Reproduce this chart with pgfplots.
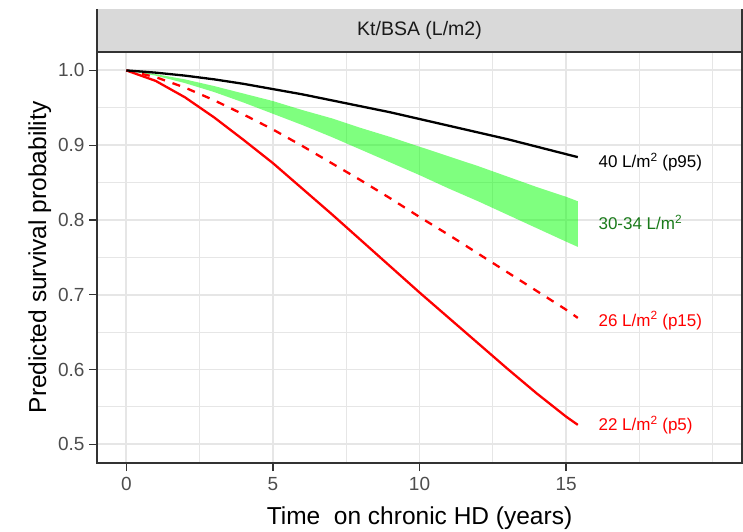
\documentclass[border=0pt]{standalone}
\usepackage{fontspec}
\setmainfont{Liberation Sans}
\usepackage{pgfplots}
\usepackage{pgfplotstable}
\pgfplotsset{compat=1.18}
\usepgfplotslibrary{fillbetween}

\definecolor{grey10}{HTML}{1A1A1A}
\definecolor{grey20}{HTML}{333333}
\definecolor{grey30}{HTML}{4D4D4D}
\definecolor{grey85}{HTML}{D9D9D9}
\definecolor{gridgrey}{HTML}{E6E6E6}
\definecolor{bandgreen}{HTML}{00FF00}
\definecolor{labgreen}{HTML}{1A7A1A}

% Predicted survival by Kt/BSA level: p95, band 30-34 (upper/lower), p15, p5
\pgfplotstableread{
t    s95   up    lo    s15   s5
0    1     1     1     1     1
1    0.997 0.995 0.993 0.991 0.986
2    0.993 0.988 0.983 0.977 0.964
3    0.988 0.979 0.971 0.960 0.937
4    0.982 0.969 0.957 0.941 0.907
5    0.975 0.959 0.942 0.921 0.876
6    0.968 0.947 0.927 0.899 0.842
7    0.960 0.936 0.911 0.876 0.808
8    0.952 0.923 0.894 0.853 0.773
9    0.944 0.911 0.877 0.829 0.738
10   0.935 0.898 0.860 0.804 0.703
11   0.926 0.885 0.842 0.780 0.669
12   0.917 0.872 0.825 0.755 0.635
13   0.908 0.858 0.807 0.730 0.601
14   0.898 0.844 0.789 0.705 0.568
15   0.888 0.831 0.771 0.680 0.537
15.4 0.884 0.825 0.764 0.669 0.526
}\survival

\begin{document}
\begin{tikzpicture}
\begin{axis}[
  scale only axis, width=645pt, height=411.3pt,
  xmin=-1, xmax=21, ymin=0.475, ymax=1.025,
  xtick={0,5,10,15}, xticklabels={0,5,10,15},
  ytick={0.5,0.6,0.7,0.8,0.9,1.0},
  yticklabels={0.5,0.6,0.7,0.8,0.9,1.0},
  minor xtick={2.5,7.5,12.5,17.5,20},
  minor ytick={0.55,0.65,0.75,0.85,0.95},
  grid=both,
  major grid style={gridgrey, line width=1.8pt},
  minor grid style={gridgrey, line width=1.0pt},
  tick pos=left, tick align=outside,
  major tick length=8pt, minor tick length=0pt,
  tick style={grey20, line width=1.3pt},
  axis line style={grey20, line width=1.3pt},
  ticklabel style={font=\fontsize{19}{22}\selectfont, text=grey30},
  xticklabel style={yshift=-3pt},
  yticklabel style={xshift=-1pt},
  xlabel={Time\ \ on chronic HD (years)},
  ylabel={Predicted survival probability},
  xlabel style={yshift=-9pt},
  label style={font=\fontsize{24.5}{28}\selectfont, text=black},
  clip=false,
]
\addplot[name path=up, draw=none] table[x=t, y=up] {\survival};
\addplot[name path=lo, draw=none] table[x=t, y=lo] {\survival};
\addplot[fill=bandgreen, fill opacity=0.5, draw=none] fill between[of=up and lo];
\addplot[red, line width=2.3pt] table[x=t, y=s5] {\survival};
\addplot[red, line width=2.3pt, dash pattern=on 8pt off 8pt] table[x=t, y=s15] {\survival};
\addplot[black, line width=2.3pt] table[x=t, y=s95] {\survival};

\begin{scope}[every node/.style={anchor=base west, inner sep=0pt, font=\fontsize{17}{20}\selectfont}]
  \node[text=black]    at (axis cs:16.1,0.870) {40 L/m\textsuperscript{2} (p95)};
  \node[text=labgreen] at (axis cs:16.1,0.787) {30-34 L/m\textsuperscript{2}};
  \node[text=red]      at (axis cs:16.1,0.658) {26 L/m\textsuperscript{2} (p15)};
  \node[text=red]      at (axis cs:16.1,0.518) {22 L/m\textsuperscript{2} (p5)};
\end{scope}
\end{axis}

% facet strip
\fill[grey85] (current axis.north west) rectangle ([yshift=42.7pt]current axis.north east);
\draw[grey20, line width=1.3pt] ([yshift=42.7pt]current axis.north west) -- (current axis.north west)
  (current axis.north east) -- ([yshift=42.7pt]current axis.north east);
\draw[grey20, line width=2pt] (current axis.north west) -- (current axis.north east);
\node[font=\fontsize{19.5}{22}\selectfont, text=grey10] at ([yshift=21.35pt]current axis.north) {Kt/BSA (L/m2)};

\pgfresetboundingbox
\path ([xshift=-97pt,yshift=-68pt]current axis.south west) rectangle ([xshift=1pt,yshift=51.7pt]current axis.north east);
\end{tikzpicture}
\end{document}
